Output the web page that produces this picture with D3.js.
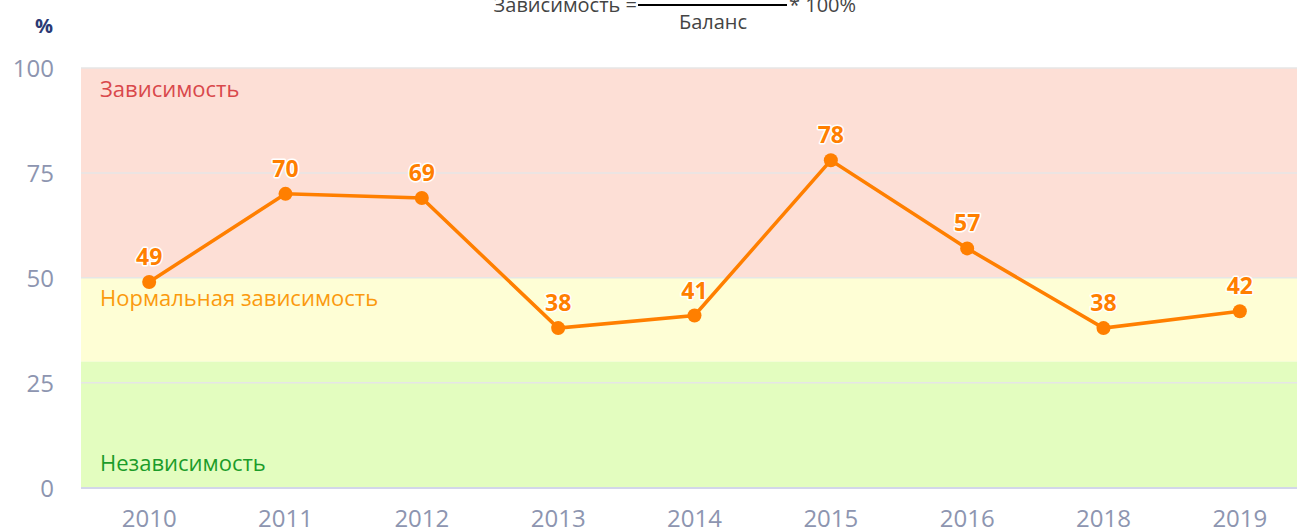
<!DOCTYPE html>
<html><head><meta charset="utf-8">
<script src="https://cdn.jsdelivr.net/npm/d3@7"></script>
<style>
html,body{margin:0;padding:0;background:#fff;}
svg{display:block;font-family:"Open Sans",sans-serif;}
</style></head>
<body>
<svg id="c" width="1297" height="529"></svg>
<script>
const years = ["2010","2011","2012","2013","2014","2015","2016","2018","2019"];
const values = [49,70,69,38,41,78,57,38,42];
const yTicks = [0,25,50,75,100];
const bands = [
  {from:50,to:100,label:"Зависимость"},
  {from:30,to:50,label:"Нормальная зависимость"},
  {from:0,to:30,label:"Независимость"}
];
const bandFill = ["#fddfd6","#fefed5","#e3fdbf"];
const bandText = ["#d9484b","#fb9a0e","#1b9c2a"];

const svg = d3.select("#c");
const L = 81, R = 1308, T = 68, B = 487.5;
const x = d3.scaleBand().domain(years).range([L,R]);
const y = d3.scaleLinear().domain([0,100]).range([B,T]);

// bands
svg.selectAll("rect.band").data(bands).join("rect")
  .attr("x",L).attr("width",R-L)
  .attr("y",d=>y(d.to)).attr("height",d=>y(d.from)-y(d.to))
  .attr("fill",(d,i)=>bandFill[i]);

// gridlines
svg.selectAll("line.grid").data(yTicks.filter(t=>t>0)).join("line")
  .attr("x1",L).attr("x2",R).attr("y1",d=>y(d)).attr("y2",d=>y(d))
  .attr("stroke","#e6e6e6").attr("stroke-width",1.5);

// band labels
const labelY = [y(100)+29, y(50)+28, y(0)-17];
svg.selectAll("text.bl").data(bands).join("text")
  .attr("x",100).attr("y",(d,i)=>labelY[i])
  .attr("fill",(d,i)=>bandText[i]).attr("font-size",22)
  .text(d=>d.label);

// y axis
const yAxis = d3.axisLeft(y).tickValues(yTicks).tickSize(0).tickPadding(0);
const gy = svg.append("g").attr("transform",`translate(54,0)`).call(yAxis);
gy.select(".domain").remove();
gy.selectAll("text").attr("font-size",24).attr("fill","#8d95b0").attr("font-family","Open Sans").attr("dy","0.36em");

// x axis
const xAxis = d3.axisBottom(x).tickSize(0).tickPadding(0);
const gx = svg.append("g").attr("transform",`translate(0,${B})`).call(xAxis);
gx.select(".domain").remove();
gx.selectAll("text").attr("font-size",24).attr("fill","#8d95b0").attr("font-family","Open Sans").attr("dy","0").attr("y",39);
svg.append("line").attr("x1",L).attr("x2",R).attr("y1",B+0.5).attr("y2",B+0.5)
  .attr("stroke","#d3d6ea").attr("stroke-width",2);

// line
const pts = years.map((yr,i)=>({yr,v:values[i]}));
const line = d3.line().x(d=>x(d.yr)+x.bandwidth()/2).y(d=>y(d.v));
svg.append("path").datum(pts).attr("d",line).attr("fill","none")
  .attr("stroke","#ff7f00").attr("stroke-width",3.5);
svg.selectAll("circle.pt").data(pts).join("circle")
  .attr("cx",d=>x(d.yr)+x.bandwidth()/2).attr("cy",d=>y(d.v)).attr("r",7)
  .attr("fill","#ff7f00");
svg.selectAll("text.dl").data(pts).join("text")
  .attr("x",d=>x(d.yr)+x.bandwidth()/2).attr("y",d=>y(d.v)-17)
  .attr("text-anchor","middle").attr("font-size",23).attr("font-weight","bold")
  .attr("fill","#ff7f00").attr("stroke","#fff").attr("stroke-width",3)
  .attr("paint-order","stroke").attr("stroke-linejoin","round")
  .text(d=>d.v);

// % label
svg.append("text").attr("x",44).attr("y",33).attr("text-anchor","middle")
  .attr("font-size",20).attr("font-weight","bold").attr("fill","#2b3a75").text("%");

// formula
svg.append("text").attr("x",637).attr("y",12).attr("text-anchor","end")
  .attr("font-size",20).attr("fill","#444").text("Зависимость =");
svg.append("line").attr("x1",638).attr("x2",787).attr("y1",5).attr("y2",5)
  .attr("stroke","#000").attr("stroke-width",2);
svg.append("text").attr("x",789).attr("y",12)
  .attr("font-size",20).attr("fill","#444").text("* 100%");
svg.append("text").attr("x",713).attr("y",29).attr("text-anchor","middle")
  .attr("font-size",20).attr("fill","#444").text("Баланс");
</script>
</body></html>
